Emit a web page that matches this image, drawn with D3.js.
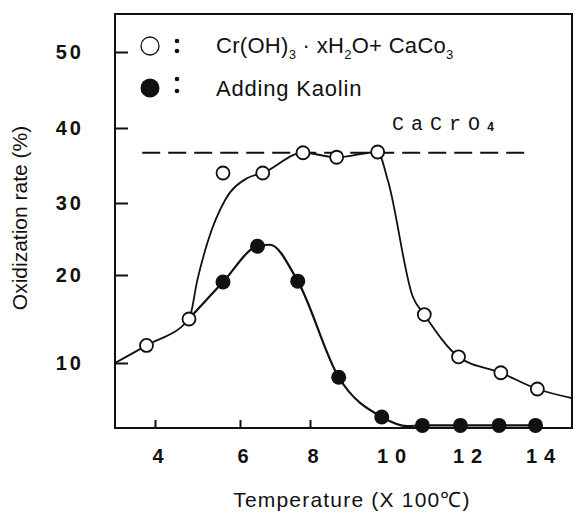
<!DOCTYPE html>
<html>
<head>
<meta charset="utf-8">
<script src="https://cdn.jsdelivr.net/npm/d3@7"></script>
<style>
  html, body { margin: 0; padding: 0; background: #fff; }
  svg { display: block; }
</style>
</head>
<body>
<svg id="chart" width="583" height="515"></svg>
<script>
// ---- data ----
const xTicks = [4, 6, 8, 10, 12, 14];
const xTickMarks = [4, 6, 8];
const yTicks = [10, 20, 30, 40, 50];

// Cr(OH)3·xH2O + CaCO3 (open circles): [temperature x100°C, oxidization rate %]
const openPoints = [[3.8, 12], [4.8, 15], [5.6, 34], [6.65, 34], [7.8, 36.7], [8.65, 36.1],
                    [9.65, 36.8], [10.85, 15.5], [11.75, 10.7], [12.9, 8.5], [13.9, 6.0]];
// path drawn for open series (knots)
const openCurve = [[3.06, 10], [3.8, 12], [4.8, 15], [5.0, 19.5], [5.25, 24.8], [5.65, 30.4],
                   [6.2, 33.3], [6.65, 34], [7.8, 36.7], [8.65, 36.1], [9.65, 36.8], [9.9, 33],
                   [10.55, 17.5], [10.85, 15.5], [11.75, 10.7], [12.9, 8.5], [13.9, 6.0], [14.85, 4.6]];

// Adding kaolin (filled circles)
const filledPoints = [[5.6, 19.2], [6.5, 24], [7.65, 19.3], [8.7, 7.8], [9.75, 1.7],
                      [10.8, 0.4], [11.8, 0.4], [12.85, 0.4], [13.85, 0.4]];
const filledCurve = [[4.8, 15], [5.6, 19.2], [6.5, 24], [6.85, 24.2], [7.65, 19.3], [8.7, 7.8],
                     [9.75, 1.7], [10.4, 0.3], [10.8, 0.4], [11.8, 0.4], [12.85, 0.4], [13.85, 0.4]];

// CaCrO4 reference level (dashed)
const caCrO4Level = 36.7;
const caCrO4Span = [3.7, 13.7];

// ---- layout ----
const svg = d3.select("#chart");
const L = 115, R = 572, T = 14, B = 428;

const x = d3.scaleLinear()
  .domain([3.06, 4, 6, 8, 10, 12, 14, 14.85])
  .range([L, 155, 240, 310, 392, 468, 541, R]);
const y = d3.scaleLinear()
  .domain([0, 10, 20, 30, 40, 50])
  .range([B, 363, 275, 203, 128, 52]);

const ink = "#111";
const sans = "Liberation Sans, Arial, sans-serif";

// frame
svg.append("rect")
  .attr("x", L).attr("y", T).attr("width", R - L).attr("height", B - T)
  .attr("fill", "none").attr("stroke", ink).attr("stroke-width", 2);

// y axis (ticks inward)
const yAxis = d3.axisRight(y).tickValues(yTicks).tickSize(13).tickFormat("");
const gy = svg.append("g").attr("transform", `translate(${L},0)`).call(yAxis);
gy.select(".domain").remove();
gy.selectAll("line").attr("stroke", ink).attr("stroke-width", 2);

svg.append("g").selectAll("text").data(yTicks).join("text")
  .attr("x", 84).attr("y", d => y(d)).attr("dy", "0.36em")
  .attr("text-anchor", "end")
  .attr("font-family", sans)
  .attr("font-size", 20).attr("font-weight", "bold")
  .attr("letter-spacing", 3)
  .attr("fill", ink)
  .text(d => d);

// x axis ticks (inward)
const xAxis = d3.axisTop(x).tickValues(xTickMarks).tickSize(8).tickFormat("");
const gx = svg.append("g").attr("transform", `translate(0,${B})`).call(xAxis);
gx.select(".domain").remove();
gx.selectAll("line").attr("stroke", ink).attr("stroke-width", 2);

svg.append("g").selectAll("text").data(xTicks).join("text")
  .attr("x", d => x(d) + 3).attr("y", 463)
  .attr("text-anchor", "middle")
  .attr("font-family", sans)
  .attr("font-size", 20).attr("font-weight", "bold")
  .attr("letter-spacing", d => d >= 10 ? 7 : 0)
  .attr("fill", ink)
  .text(d => d);

// axis titles
svg.append("text")
  .attr("x", 352).attr("y", 507)
  .attr("text-anchor", "middle")
  .attr("font-family", sans)
  .attr("font-size", 21).attr("letter-spacing", 1.2).attr("fill", ink)
  .text("Temperature (X 100℃)");

svg.append("text")
  .attr("transform", "translate(27,218) rotate(-90)")
  .attr("text-anchor", "middle")
  .attr("font-family", sans)
  .attr("font-size", 21).attr("fill", ink)
  .text("Oxidization rate (%)");

// CaCrO4 dashed level
svg.append("line")
  .attr("x1", x(caCrO4Span[0])).attr("x2", x(caCrO4Span[1]))
  .attr("y1", y(caCrO4Level)).attr("y2", y(caCrO4Level))
  .attr("stroke", ink).attr("stroke-width", 2)
  .attr("stroke-dasharray", "18,8");

const caText = svg.append("text")
  .attr("x", 392).attr("y", 130)
  .attr("font-family", "Liberation Mono, Courier New, monospace")
  .attr("font-size", 20).attr("fill", ink)
  .attr("letter-spacing", 7);
caText.append("tspan").text("CaCrO");
caText.append("tspan").attr("font-size", 12).attr("font-weight", "bold").attr("dy", 1).text("4");

// curves
const line = d3.line().x(d => x(d[0])).y(d => y(d[1])).curve(d3.curveMonotoneX);

svg.append("path").datum(openCurve)
  .attr("d", line).attr("fill", "none").attr("stroke", ink).attr("stroke-width", 1.8);
svg.append("path").datum(filledCurve)
  .attr("d", line).attr("fill", "none").attr("stroke", ink).attr("stroke-width", 2.2);

// markers
svg.append("g").selectAll("circle").data(openPoints).join("circle")
  .attr("cx", d => x(d[0])).attr("cy", d => y(d[1])).attr("r", 6.5)
  .attr("fill", "#fff").attr("stroke", ink).attr("stroke-width", 1.8);

svg.append("g").selectAll("circle").data(filledPoints).join("circle")
  .attr("cx", d => x(d[0])).attr("cy", d => y(d[1])).attr("r", 7.5)
  .attr("fill", ink);

// legend
const lg = svg.append("g").attr("font-family", sans).attr("fill", ink);
lg.append("circle").attr("cx", 150).attr("cy", 46).attr("r", 9)
  .attr("fill", "#fff").attr("stroke", ink).attr("stroke-width", 1.3);
lg.append("circle").attr("cx", 150).attr("cy", 88).attr("r", 9.5)
  .attr("fill", ink);
[[46, 5], [85, 6]].forEach(([cy, h]) => {
  lg.append("circle").attr("cx", 177).attr("cy", cy - h).attr("r", 2.3).attr("fill", ink);
  lg.append("circle").attr("cx", 177).attr("cy", cy + h).attr("r", 2.3).attr("fill", ink);
});

const t1 = lg.append("text").attr("x", 216).attr("y", 53).attr("font-size", 22).attr("letter-spacing", 0.3);
t1.append("tspan").text("Cr(OH)");
t1.append("tspan").attr("font-size", 13).attr("dy", 6).text("3");
t1.append("tspan").attr("dy", -6).text(" · xH");
t1.append("tspan").attr("font-size", 13).attr("dy", 6).text("2");
t1.append("tspan").attr("dy", -6).text("O+ CaCo");
t1.append("tspan").attr("font-size", 13).attr("dy", 6).text("3");

lg.append("text").attr("x", 216).attr("y", 96).attr("font-size", 22).attr("letter-spacing", 0.8)
  .text("Adding Kaolin");
</script>
</body>
</html>
